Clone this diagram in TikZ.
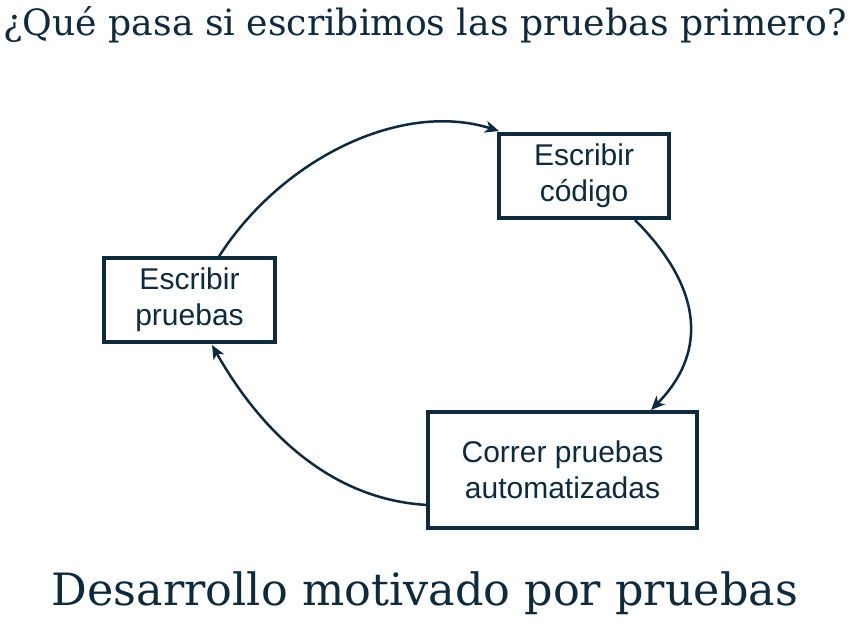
\documentclass[tikz,border=0pt]{standalone}
\usepackage{fontspec}
\setmainfont{Liberation Sans}
\newfontfamily\slabfont{DejaVu Serif}
\usetikzlibrary{arrows.meta}
\definecolor{ink}{HTML}{0F2A3D}
\begin{document}
\begin{tikzpicture}[x=1pt,y=-1pt,
  boxnode/.style={draw=ink,line width=3.5pt,text=ink,align=center,font=\fontsize{30}{36}\selectfont,inner sep=0pt},
  conn/.style={draw=ink,line width=2.5pt,-{Stealth[length=14pt,width=12pt,inset=4pt]}},
  titletext/.style={text=ink,inner sep=0pt}]
\useasboundingbox (0,0) rectangle (850,629);
\node[boxnode,minimum width=170pt,minimum height=84pt] (code) at (584,176) {Escribir\\código};
\node[boxnode,minimum width=171pt,minimum height=84pt] (tests) at (189.5,300) {Escribir\\pruebas};
\node[boxnode,minimum width=269pt,minimum height=116pt] (run) at (562.5,470) {Correr pruebas\\automatizadas};
\node[titletext] (title) at (425,25) {\resizebox{843pt}{!}{\slabfont ¿Qué pasa si escribimos las pruebas primero?}};
\node[titletext] (subtitle) at (425,593) {\resizebox{746pt}{!}{\slabfont Desarrollo motivado por pruebas}};
\draw[conn] (218,258) .. controls (280,160) and (400,100) .. (499,131);
\draw[conn] (635,220) .. controls (700,285) and (710,350) .. (651,410);
\draw[conn] (428,505) .. controls (330,500) and (260,430) .. (212,345);
\end{tikzpicture}
\end{document}
